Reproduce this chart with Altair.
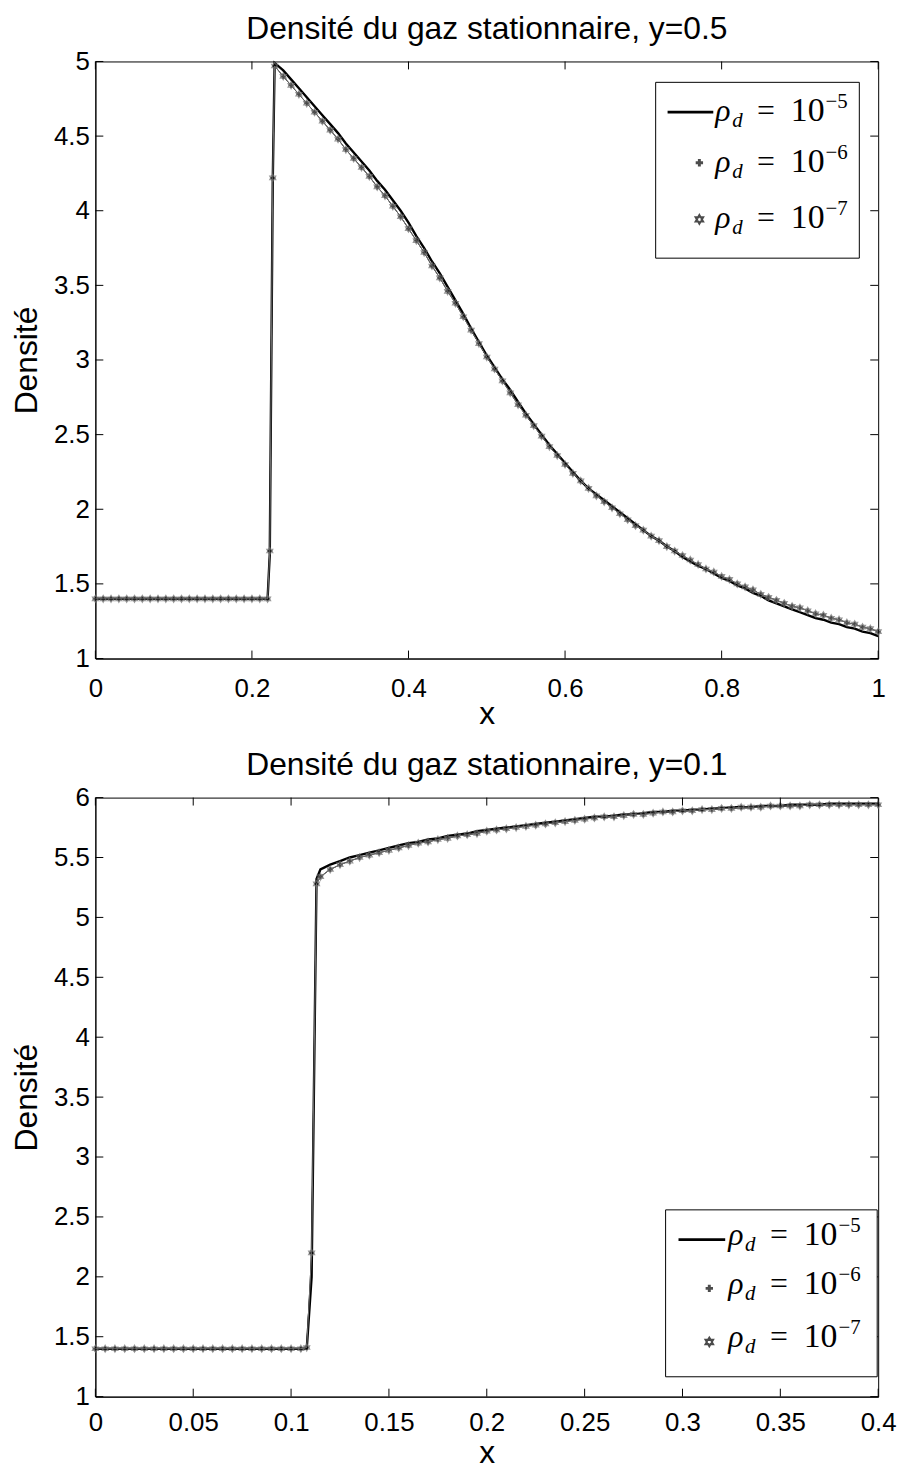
import altair as alt
import pandas as pd

# ---------------- data: top panel (y = 0.5) ----------------
TOP_X = [0.00, 0.01, 0.02, 0.03, 0.04, 0.05, 0.06, 0.07, 0.08, 0.09, 0.10, 0.11,
         0.12, 0.13, 0.14, 0.15, 0.16, 0.17, 0.18, 0.19, 0.20, 0.21, 0.22,
         0.2228, 0.2266, 0.229,
         0.24, 0.25, 0.26, 0.27, 0.28, 0.29, 0.30, 0.31, 0.32, 0.33,
         0.34, 0.35, 0.36, 0.37, 0.38, 0.39, 0.40, 0.41, 0.42, 0.43,
         0.44, 0.45, 0.46, 0.47, 0.48, 0.49, 0.50, 0.51, 0.52, 0.53,
         0.54, 0.55, 0.56, 0.57, 0.58, 0.59, 0.60, 0.61, 0.62, 0.63,
         0.64, 0.65, 0.66, 0.67, 0.68, 0.69, 0.70, 0.71, 0.72, 0.73,
         0.74, 0.75, 0.76, 0.77, 0.78, 0.79, 0.80, 0.81, 0.82, 0.83,
         0.84, 0.85, 0.86, 0.87, 0.88, 0.89, 0.90, 0.91, 0.92, 0.93,
         0.94, 0.95, 0.96, 0.97, 0.98, 0.99, 1.00]
TOP_RHO5 = [1.40, 1.40, 1.40, 1.40, 1.40, 1.40, 1.40, 1.40, 1.40, 1.40, 1.40, 1.40,
            1.40, 1.40, 1.40, 1.40, 1.40, 1.40, 1.40, 1.40, 1.40, 1.40, 1.40,
            1.70, 4.20, 4.99,
            4.94, 4.88, 4.82, 4.76, 4.70, 4.64, 4.58, 4.52, 4.45, 4.39,
            4.33, 4.27, 4.20, 4.14, 4.07, 4.00, 3.92, 3.83, 3.75, 3.66,
            3.58, 3.49, 3.40, 3.31, 3.21, 3.12, 3.03, 2.95, 2.87, 2.80,
            2.72, 2.64, 2.57, 2.50, 2.43, 2.37, 2.31, 2.25, 2.19, 2.14,
            2.10, 2.06, 2.02, 1.98, 1.94, 1.90, 1.86, 1.82, 1.79, 1.75,
            1.72, 1.68, 1.65, 1.62, 1.60, 1.57, 1.54, 1.52, 1.49, 1.47,
            1.44, 1.42, 1.39, 1.37, 1.35, 1.33, 1.31, 1.29, 1.27, 1.26,
            1.24, 1.23, 1.21, 1.20, 1.18, 1.17, 1.15]
TOP_MARK = [1.40, 1.40, 1.40, 1.40, 1.40, 1.40, 1.40, 1.40, 1.40, 1.40, 1.40, 1.40,
            1.40, 1.40, 1.40, 1.40, 1.40, 1.40, 1.40, 1.40, 1.40, 1.40, 1.40,
            1.72, 4.22, 4.97,
            4.90, 4.84, 4.78, 4.72, 4.66, 4.60, 4.54, 4.48, 4.41, 4.35,
            4.29, 4.23, 4.16, 4.10, 4.03, 3.96, 3.88, 3.80, 3.72, 3.63,
            3.55, 3.46, 3.38, 3.29, 3.20, 3.11, 3.02, 2.94, 2.86, 2.78,
            2.70, 2.63, 2.56, 2.49, 2.42, 2.36, 2.30, 2.24, 2.19, 2.14,
            2.09, 2.05, 2.01, 1.97, 1.93, 1.89, 1.86, 1.82, 1.79, 1.75,
            1.72, 1.69, 1.66, 1.63, 1.60, 1.58, 1.55, 1.53, 1.50, 1.48,
            1.46, 1.43, 1.41, 1.39, 1.37, 1.35, 1.34, 1.32, 1.30, 1.29,
            1.27, 1.26, 1.24, 1.23, 1.21, 1.20, 1.18]
TOP_RHO6 = TOP_MARK
TOP_RHO7 = TOP_MARK

# ---------------- data: bottom panel (y = 0.1) ----------------
BOT_X = [0.000, 0.005, 0.010, 0.015, 0.020, 0.025, 0.030, 0.035, 0.040, 0.045, 0.050,
         0.055, 0.060, 0.065, 0.070, 0.075, 0.080, 0.085, 0.090, 0.095, 0.100, 0.105,
         0.108, 0.1105, 0.113, 0.115,
         0.120, 0.125, 0.130, 0.135, 0.140, 0.145, 0.150, 0.155, 0.160, 0.165,
         0.170, 0.175, 0.180, 0.185, 0.190, 0.195, 0.200, 0.205, 0.210, 0.215,
         0.220, 0.225, 0.230, 0.235, 0.240, 0.245, 0.250, 0.255, 0.260, 0.265,
         0.270, 0.275, 0.280, 0.285, 0.290, 0.295, 0.300, 0.305, 0.310, 0.315,
         0.320, 0.325, 0.330, 0.335, 0.340, 0.345, 0.350, 0.355, 0.360, 0.365,
         0.370, 0.375, 0.380, 0.385, 0.390, 0.395, 0.400]
BOT_RHO5 = [1.40, 1.40, 1.40, 1.40, 1.40, 1.40, 1.40, 1.40, 1.40, 1.40, 1.40,
            1.40, 1.40, 1.40, 1.40, 1.40, 1.40, 1.40, 1.40, 1.40, 1.40, 1.40,
            1.40, 2.00, 5.32, 5.40,
            5.44, 5.47, 5.50, 5.52, 5.54, 5.56, 5.58, 5.60, 5.62, 5.63,
            5.65, 5.66, 5.68, 5.69, 5.70, 5.72, 5.73, 5.74, 5.75, 5.76,
            5.77, 5.78, 5.79, 5.80, 5.81, 5.82, 5.83, 5.84, 5.84, 5.85,
            5.86, 5.86, 5.87, 5.88, 5.88, 5.89, 5.89, 5.90, 5.90, 5.91,
            5.91, 5.92, 5.92, 5.92, 5.93, 5.93, 5.93, 5.94, 5.94, 5.94,
            5.94, 5.95, 5.95, 5.95, 5.95, 5.95, 5.95]
BOT_MARK = [1.40, 1.40, 1.40, 1.40, 1.40, 1.40, 1.40, 1.40, 1.40, 1.40, 1.40,
            1.40, 1.40, 1.40, 1.40, 1.40, 1.40, 1.40, 1.40, 1.40, 1.40, 1.40,
            1.41, 2.20, 5.28, 5.34,
            5.40, 5.44, 5.47, 5.50, 5.52, 5.54, 5.56, 5.58, 5.60, 5.62,
            5.63, 5.65, 5.66, 5.68, 5.69, 5.70, 5.72, 5.73, 5.74, 5.75,
            5.76, 5.77, 5.78, 5.79, 5.80, 5.81, 5.82, 5.83, 5.84, 5.84,
            5.85, 5.86, 5.86, 5.87, 5.88, 5.88, 5.89, 5.89, 5.90, 5.90,
            5.91, 5.91, 5.92, 5.92, 5.92, 5.93, 5.93, 5.93, 5.93, 5.94,
            5.94, 5.94, 5.94, 5.94, 5.94, 5.94, 5.94]
BOT_RHO6 = BOT_MARK
BOT_RHO7 = BOT_MARK

TOP_XTICKS = [0, 0.2, 0.4, 0.6, 0.8, 1]
TOP_YTICKS = [1, 1.5, 2, 2.5, 3, 3.5, 4, 4.5, 5]
BOT_XTICKS = [0, 0.05, 0.1, 0.15, 0.2, 0.25, 0.3, 0.35, 0.4]
BOT_YTICKS = [1, 1.5, 2, 2.5, 3, 3.5, 4, 4.5, 5, 5.5, 6]

LEGEND_EXP = ["\u22125", "\u22126", "\u22127"]
TITLES = ["Densité du gaz stationnaire, y=0.5", "Densité du gaz stationnaire, y=0.1"]

HEXAGRAM = ("M0,-1L0.289,-0.5L0.866,-0.5L0.577,0L0.866,0.5L0.289,0.5L0,1"
            "L-0.289,0.5L-0.866,0.5L-0.577,0L-0.866,-0.5L-0.289,-0.5Z")

SANS = "Liberation Sans"
SERIF = "Liberation Serif"
GRAY = "#707070"


def legend_layers(box, line_seg, line_y, mark_x, mark_ys, text_x, baselines):
    one = pd.DataFrame({"k": [0]})
    x0, x1, y0, y1 = box
    layers = [
        alt.Chart(one).mark_rect(fill="white", stroke="black", strokeWidth=1).encode(
            x=alt.value(x0), x2=alt.value(x1), y=alt.value(y0), y2=alt.value(y1)),
        alt.Chart(one).mark_rule(color="black", strokeWidth=2.8).encode(
            x=alt.value(line_seg[0]), x2=alt.value(line_seg[1]), y=alt.value(line_y)),
        alt.Chart(one).mark_point(shape="cross", filled=True, color="black", size=55).encode(
            x=alt.value(mark_x), y=alt.value(mark_ys[0])),
        alt.Chart(one).mark_point(shape=HEXAGRAM, filled=False, color="black",
                                  strokeWidth=2.2, size=70).encode(
            x=alt.value(mark_x), y=alt.value(mark_ys[1])),
    ]
    for exp, yb in zip(LEGEND_EXP, baselines):
        pieces = [
            ("\u03c1", 0, 0, 32, "italic"),
            ("d", 17, 6, 21, "italic"),
            ("=", 42, 0, 32, "normal"),
            ("10", 76, 0, 34, "normal"),
            (exp, 111, -13, 21, "normal"),
        ]
        for txt, dx, dy, fs, style in pieces:
            layers.append(
                alt.Chart(one).mark_text(text=txt, font=SERIF, fontSize=fs, fontStyle=style,
                                         align="left", baseline="alphabetic",
                                         color="black").encode(
                    x=alt.value(text_x + dx), y=alt.value(yb + dy)))
    return layers


def panel(xs, r5, r6, r7, xticks, yticks, xdom, ydom, w, h, title, leg,
          lab_pad, tit_pad):
    xscale = alt.Scale(domain=xdom, nice=False, zero=False)
    yscale = alt.Scale(domain=ydom, nice=False, zero=False)
    xaxis = alt.Axis(title="x", values=xticks, format="~g", grid=False, ticks=False,
                     labelFontSize=26, labelPadding=lab_pad, labelFlush=False,
                     labelOverlap=False, titleFontSize=32, titleFontWeight="normal",
                     titlePadding=tit_pad, domainColor="black", labelColor="black",
                     titleColor="black")
    yaxis = alt.Axis(title="Densité", values=yticks, format="~g", grid=False, ticks=False,
                     labelFontSize=26, labelPadding=6, labelFlush=False, labelOverlap=False,
                     titleFontSize=32, titleFontWeight="normal", titlePadding=10,
                     domainColor="black", labelColor="black", titleColor="black")
    d5 = pd.DataFrame({"x": xs, "y": r5})
    d6 = pd.DataFrame({"x": xs, "y": r6})
    d7 = pd.DataFrame({"x": xs, "y": r7})
    enc = dict(x=alt.X("x:Q", scale=xscale, axis=xaxis),
               y=alt.Y("y:Q", scale=yscale, axis=yaxis))
    line5 = alt.Chart(d5).mark_line(color="black", strokeWidth=2.4).encode(**enc)
    line6 = alt.Chart(d6).mark_line(color="black", strokeWidth=1).encode(**enc)
    pts6 = alt.Chart(d6).mark_point(shape="cross", filled=True, color="black",
                                    size=26).encode(**enc)
    line7 = alt.Chart(d7).mark_line(color=GRAY, strokeWidth=1).encode(**enc)
    pts7 = alt.Chart(d7).mark_point(shape=HEXAGRAM, filled=False, color=GRAY,
                                    strokeWidth=1.2, size=48).encode(**enc)

    xt = pd.DataFrame({"x": xticks})
    yt = pd.DataFrame({"y": yticks})
    tl = 8
    tick_layers = [
        alt.Chart(xt).mark_rule(color="black", strokeWidth=1).encode(
            x=alt.X("x:Q", scale=xscale, axis=xaxis), y=alt.value(h), y2=alt.value(h - tl)),
        alt.Chart(xt).mark_rule(color="black", strokeWidth=1).encode(
            x=alt.X("x:Q", scale=xscale, axis=xaxis), y=alt.value(0), y2=alt.value(tl)),
        alt.Chart(yt).mark_rule(color="black", strokeWidth=1).encode(
            y=alt.Y("y:Q", scale=yscale, axis=yaxis), x=alt.value(0), x2=alt.value(tl)),
        alt.Chart(yt).mark_rule(color="black", strokeWidth=1).encode(
            y=alt.Y("y:Q", scale=yscale, axis=yaxis), x=alt.value(w - tl), x2=alt.value(w)),
    ]
    layers = [line5, line6, pts6, line7, pts7] + tick_layers + legend_layers(**leg)
    return alt.layer(*layers).properties(
        width=w, height=h,
        title=alt.Title(title, fontSize=32, fontWeight="normal", font=SANS,
                        color="black", offset=3))


top = panel(TOP_X, TOP_RHO5, TOP_RHO6, TOP_RHO7, TOP_XTICKS, TOP_YTICKS,
            [0, 1], [1, 5], 788, 601, TITLES[0],
            dict(box=(564, 769, 21, 198), line_seg=(576, 622), line_y=51,
                 mark_x=608, mark_ys=(102, 159), text_x=624,
                 baselines=(60, 111, 168)),
            lab_pad=17, tit_pad=-3)
bottom = panel(BOT_X, BOT_RHO5, BOT_RHO6, BOT_RHO7, BOT_XTICKS, BOT_YTICKS,
               [0, 0.4], [1, 6], 788, 603, TITLES[1],
               dict(box=(574, 787, 415, 583), line_seg=(587, 634), line_y=445,
                    mark_x=618, mark_ys=(494, 548), text_x=637,
                    baselines=(450, 500, 553)),
               lab_pad=13, tit_pad=2)

chart = alt.vconcat(top, bottom, spacing=18).properties(
    padding={"left": 10, "top": 7, "right": 10, "bottom": 0}
).configure(
    font=SANS
).configure_view(
    stroke="black", strokeWidth=1
)

chart.save("out.html", embed_options={"renderer": "svg", "actions": False})
